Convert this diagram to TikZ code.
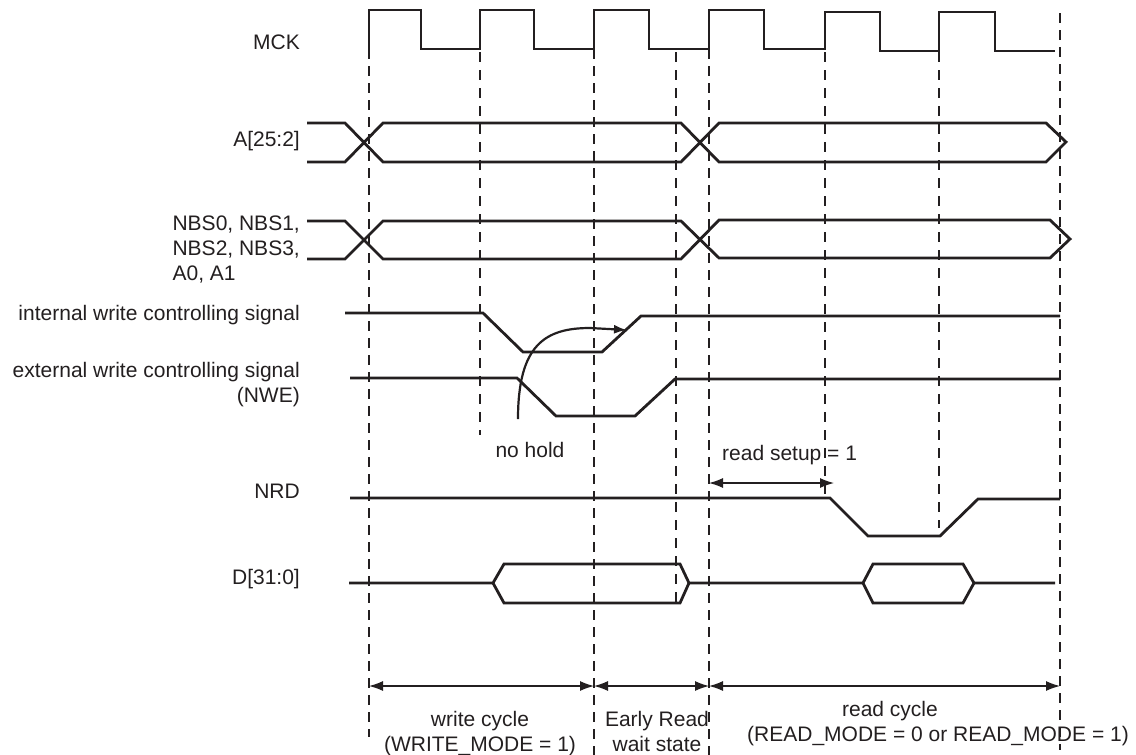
\documentclass[tikz,border=0pt]{standalone}
\usepackage{fontspec}
\setmainfont{Liberation Sans}
\usetikzlibrary{arrows.meta}
\definecolor{ink}{HTML}{231F20}
\begin{document}
\begin{tikzpicture}[x=1pt,y=-1pt,>={Latex[length=14pt,width=10pt]},sig/.style={ink,line width=2.8pt,line join=miter},grid/.style={ink,line width=2.8pt,dash pattern=on 10pt off 7pt},tick/.style={ink,line width=1.4pt,dash pattern=on 10pt off 8pt},span/.style={ink,line width=1.2pt,<->},lbl/.style={inner sep=0pt,text=ink,font=\fontsize{21}{25}\selectfont}]
\useasboundingbox (0,0) rectangle (1136,755);
% time marks
\foreach \x in {594,709} {\draw[grid] (\x,49)--(\x,755);}
\draw[grid] (369,49)--(369,737); \draw[grid] (1060,13)--(1060,750);
\draw[tick] (480,52)--(480,435); \draw[tick] (676,52)--(676,602); \draw[tick] (825,52)--(825,495); \draw[tick] (939,52)--(939,528);
% signals
\draw[sig] (369,49)--(369,10)--(421,10)--(421,49)--(480,49)--(480,10)--(534,10)--(534,49)--(594,49)--(594,10)--(649,10)--(649,49)--(709,49)--(709,10)--(764,10)--(764,49)--(825,49)--(825,12)--(880,12)--(880,51)--(939,51)--(939,12)--(995,12)--(995,51)--(1055,51);
\draw[sig] (307,123)--(345,123)--(383,162)--(681,162)--(719,123)--(1046,123)--(1066,142)--(1046,162)--(719,162)--(681,123)--(383,123)--(345,162)--(307,162);
\draw[sig] (307,221)--(345,221)--(383,259)--(681,259)--(719,220)--(1050,220)--(1070,239)--(1050,258)--(719,258)--(681,221)--(383,221)--(345,259)--(307,259);
\draw[sig] (345,313)--(483,313)--(523,352)--(602,352)--(641,316)--(1060,316);
\draw[sig] (350,378)--(517,378)--(556,416)--(635,416)--(675,379)--(1060,379);
\draw[sig] (350,498)--(830,498)--(868,536)--(940,536)--(978,499)--(1060,499);
\draw[sig] (349,583)--(493,583)--(504,564)--(680,564)--(689,583)--(863,583)--(873,564)--(963,564)--(974,583)--(1055,583);
\draw[sig] (493,583)--(504,603)--(680,603)--(689,583); \draw[sig] (863,583)--(873,603)--(963,603)--(974,583);
% no hold
\draw[ink,line width=2.2pt,-{Latex[length=13pt,width=9pt]}] (518,419) .. controls (518,345) and (545,328) .. (590,328)--(627,330);
% spans
\draw[span] (709,483)--(834,483);
\draw[span] (369,686)--(594,686); \draw[span] (594,686)--(709,686); \draw[span] (709,686)--(1060,686);
% labels
\node[lbl,anchor=base east] at (300,49) {MCK};
\node[lbl,anchor=base east] at (300,146) {A[25:2]};
\node[lbl,anchor=base east,align=left] at (300,280) {NBS0, NBS1,\\NBS2, NBS3,\\A0, A1};
\node[lbl,anchor=base east] at (300,320) {internal write controlling signal};
\node[lbl,anchor=base east,align=right] at (300,402) {external write controlling signal\\(NWE)};
\node[lbl,anchor=base east] at (300,498) {NRD};
\node[lbl,anchor=base east] at (300,584) {D[31:0]};
\node[lbl,anchor=base] at (530,457) {no hold};
\node[lbl,anchor=base west] at (722,460) {read setup = 1};
\node[lbl,anchor=base,align=center] at (480,751) {write cycle\\(WRITE\_MODE = 1)};
\node[lbl,anchor=base,align=center] at (657,751) {Early Read\\wait state};
\node[lbl,anchor=base] at (890,716) {read cycle};
\node[lbl,anchor=base] at (938,741) {(READ\_MODE = 0 or READ\_MODE = 1)};
\end{tikzpicture}
\end{document}
